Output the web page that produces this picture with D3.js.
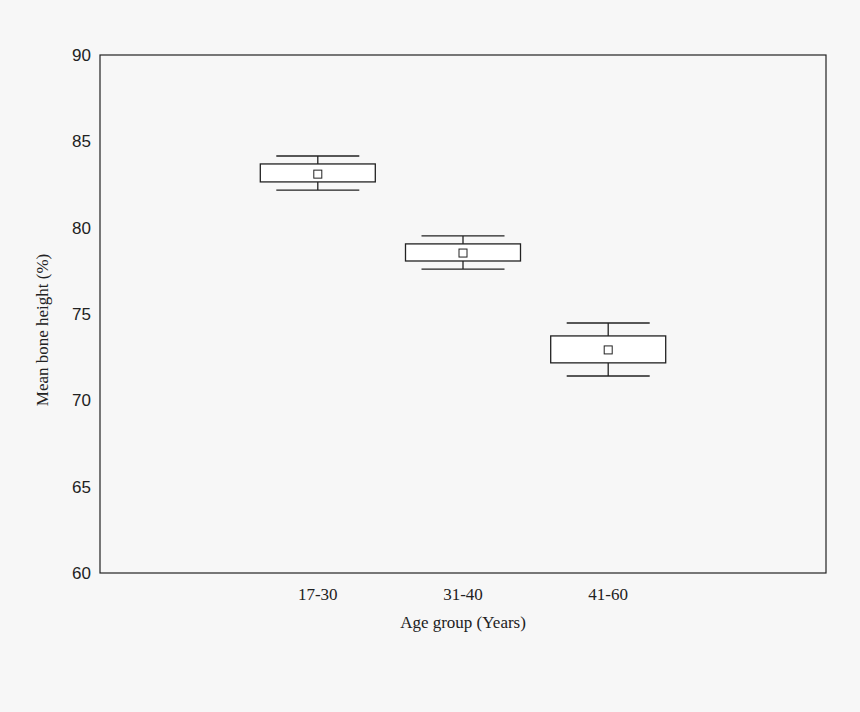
<!DOCTYPE html>
<html><head><meta charset="utf-8">
<script src="https://cdn.jsdelivr.net/npm/d3@7"></script>
<style>body{margin:0;background:#f7f7f7}</style></head>
<body><svg id="c" width="860" height="712"></svg>
<script>
const categories=["17-30","31-40","41-60"];
const whiskerHigh=[84.15,79.52,74.48];
const boxHigh=[83.69,79.06,73.73];
const means=[83.1,78.53,72.92];
const boxLow=[82.65,78.07,72.17];
const whiskerLow=[82.18,77.6,71.41];
const yTicks=[60,65,70,75,80,85,90];

const svg=d3.select("#c");
svg.append("rect").attr("width",860).attr("height",712).attr("fill","#f7f7f7");
const L=100,R=826,T=55,B=573;
const x=d3.scaleBand().domain(["_a",...categories,"_b"]).range([L,R]);
const y=d3.scaleLinear().domain([60,90]).range([B,T]);
svg.append("rect").attr("x",L).attr("y",T).attr("width",R-L).attr("height",B-T).attr("fill","none").attr("stroke","#222").attr("stroke-width",1.2);
svg.selectAll(".yt").data(yTicks).join("text").attr("x",L-9).attr("y",d=>y(d)).attr("dy","0.35em")
 .attr("text-anchor","end").attr("font-family","Liberation Sans, Arial").attr("font-size",17).attr("fill","#222").text(d=>d);
svg.selectAll(".xt").data(categories).join("text").attr("x",d=>x(d)+x.bandwidth()/2).attr("y",600)
 .attr("text-anchor","middle").attr("font-family","Liberation Serif, Times New Roman").attr("font-size",17).attr("fill","#222").text(d=>d);
svg.append("text").attr("x",463).attr("y",628).attr("text-anchor","middle").attr("font-family","Liberation Serif").attr("font-size",17).attr("fill","#222").text("Age group (Years)");
svg.append("text").attr("transform","translate(48,330) rotate(-90)").attr("text-anchor","middle").attr("font-family","Liberation Serif").attr("font-size",17).attr("fill","#222").text("Mean bone height (%)");
const bw=115,cw=83;
categories.forEach((c,i)=>{
 const cx=x(c)+x.bandwidth()/2;
 const g=svg.append("g").attr("stroke","#222").attr("stroke-width",1.3).attr("fill","none");
 g.append("line").attr("x1",cx).attr("x2",cx).attr("y1",y(whiskerHigh[i])).attr("y2",y(boxHigh[i]));
 g.append("line").attr("x1",cx).attr("x2",cx).attr("y1",y(boxLow[i])).attr("y2",y(whiskerLow[i]));
 g.append("line").attr("x1",cx-cw/2).attr("x2",cx+cw/2).attr("y1",y(whiskerHigh[i])).attr("y2",y(whiskerHigh[i]));
 g.append("line").attr("x1",cx-cw/2).attr("x2",cx+cw/2).attr("y1",y(whiskerLow[i])).attr("y2",y(whiskerLow[i]));
 g.append("rect").attr("x",cx-bw/2).attr("width",bw).attr("y",y(boxHigh[i])).attr("height",y(boxLow[i])-y(boxHigh[i])).attr("fill","#fff");
 g.append("rect").attr("x",cx-4).attr("y",y(means[i])-4).attr("width",8).attr("height",8).attr("fill","#fff").attr("stroke-width",1);
});
</script></body></html>
